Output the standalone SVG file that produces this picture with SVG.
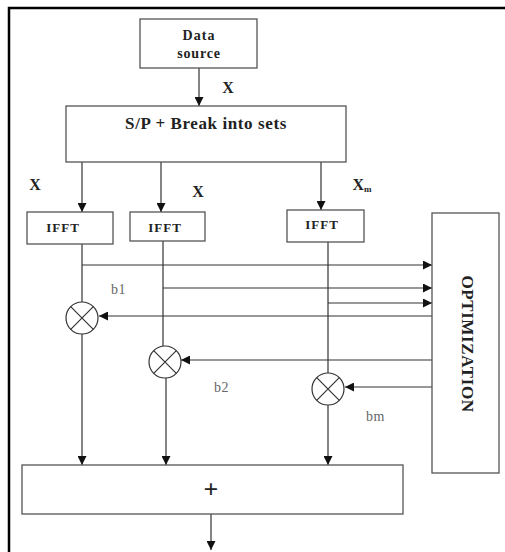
<svg xmlns="http://www.w3.org/2000/svg" width="505" height="552" viewBox="0 0 505 552">
<style>
.box{fill:#fff;stroke:#555;stroke-width:1.3}
.ln{stroke:#333;stroke-width:1.2;fill:none}
.bt{font-family:"Liberation Serif",serif;font-weight:bold;fill:#222;text-anchor:middle}
.gl{font-family:"Liberation Serif",serif;fill:#666;font-size:14px;letter-spacing:0.5px}
.mul{fill:#fff;stroke:#333;stroke-width:1.2}
</style>
<defs>
<marker id="ah" viewBox="0 0 10 10" refX="10" refY="5" markerWidth="9" markerHeight="9" markerUnits="userSpaceOnUse" orient="auto">
<path d="M0,0 L10,5 L0,10 z" fill="#111"/>
</marker>
</defs>
<rect width="505" height="552" fill="#fff"/>
<path d="M9,552 V8 H505" fill="none" stroke="#000" stroke-width="2.5"/>

<g id="connectors" class="ln">
<line x1="199" y1="68" x2="199" y2="106" marker-end="url(#ah)"/>
<line x1="82" y1="162" x2="82" y2="212" marker-end="url(#ah)"/>
<line x1="161" y1="162" x2="161" y2="212" marker-end="url(#ah)"/>
<line x1="321" y1="162" x2="321" y2="210" marker-end="url(#ah)"/>
<line x1="82" y1="244" x2="82" y2="302"/>
<line x1="163" y1="241" x2="163" y2="346"/>
<line x1="328" y1="242" x2="328" y2="373"/>
<line x1="82" y1="265" x2="432" y2="265" marker-end="url(#ah)"/>
<line x1="163" y1="288" x2="432" y2="288" marker-end="url(#ah)"/>
<line x1="328" y1="303" x2="432" y2="303" marker-end="url(#ah)"/>
<line x1="432" y1="316" x2="99" y2="316" marker-end="url(#ah)"/>
<line x1="432" y1="360" x2="181" y2="360" marker-end="url(#ah)"/>
<line x1="432" y1="387" x2="345" y2="387" marker-end="url(#ah)"/>
<line x1="82" y1="334" x2="82" y2="465" marker-end="url(#ah)"/>
<line x1="166" y1="378" x2="166" y2="465" marker-end="url(#ah)"/>
<line x1="328" y1="405" x2="328" y2="465" marker-end="url(#ah)"/>
<line x1="211" y1="514" x2="211" y2="550" marker-end="url(#ah)"/>
</g>

<g id="data-source">
<rect class="box" x="140" y="19" width="117" height="49"/>
<text class="bt" x="199" y="40" font-size="14" letter-spacing="1">Data</text>
<text class="bt" x="199" y="58" font-size="14" letter-spacing="0.8">source</text>
</g>
<text class="bt" x="228" y="93" font-size="16">X</text>

<g id="sp-break">
<rect class="box" x="66" y="106" width="280" height="56"/>
<text class="bt" x="206" y="129" font-size="17" letter-spacing="0.6">S/P + Break into sets</text>
</g>

<text class="bt" x="35" y="190" font-size="16">X</text>
<text class="bt" x="198" y="197" font-size="16">X</text>
<text class="bt" x="362" y="190" font-size="16">X<tspan font-size="9" dy="2">m</tspan></text>

<g id="ifft1">
<rect class="box" x="27" y="212" width="86" height="32"/>
<text class="bt" x="63" y="232" font-size="13" letter-spacing="1">IFFT</text>
</g>
<g id="ifft2">
<rect class="box" x="130" y="212" width="75" height="29"/>
<text class="bt" x="165" y="232" font-size="13" letter-spacing="1">IFFT</text>
</g>
<g id="ifft3">
<rect class="box" x="287" y="210" width="77" height="32"/>
<text class="bt" x="322" y="229" font-size="13" letter-spacing="1">IFFT</text>
</g>

<g id="optimization">
<rect class="box" x="432" y="213" width="67" height="260"/>
<text class="bt" font-size="17" letter-spacing="0.6" transform="translate(462,344) rotate(90)">OPTIMIZATION</text>
</g>

<g id="mult1">
<circle class="mul" cx="82" cy="318" r="16"/>
<path class="ln" d="M70.7,306.7 L93.3,329.3 M93.3,306.7 L70.7,329.3"/>
</g>
<g id="mult2">
<circle class="mul" cx="165" cy="362" r="16"/>
<path class="ln" d="M153.7,350.7 L176.3,373.3 M176.3,350.7 L153.7,373.3"/>
</g>
<g id="mult3">
<circle class="mul" cx="328" cy="389" r="16"/>
<path class="ln" d="M316.7,377.7 L339.3,400.3 M339.3,377.7 L316.7,400.3"/>
</g>

<text class="gl" x="111" y="294">b1</text>
<text class="gl" x="214" y="392">b2</text>
<text class="gl" x="366" y="421">bm</text>

<g id="sum">
<rect class="box" x="22" y="465" width="381" height="49"/>
<text class="bt" x="211" y="498" font-size="26">+</text>
</g>
</svg>
